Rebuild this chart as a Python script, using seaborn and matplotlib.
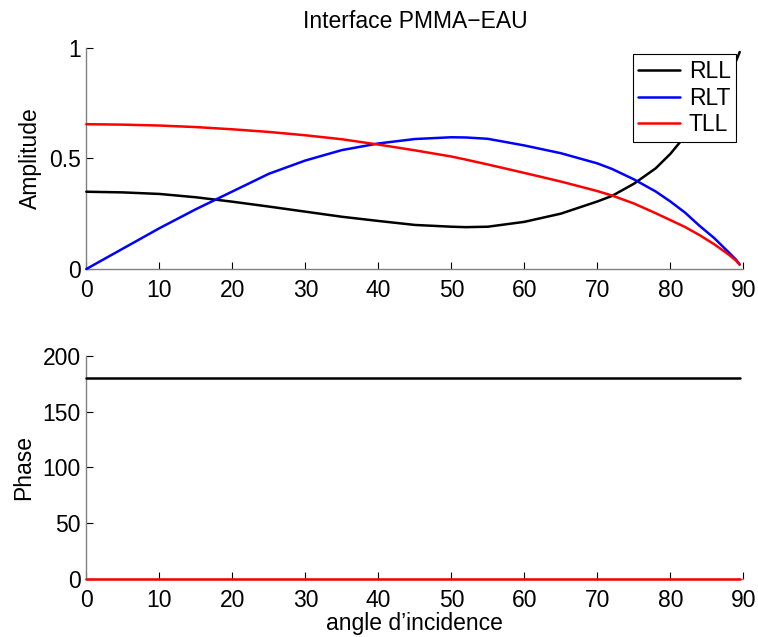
import matplotlib
matplotlib.use("Agg")
import matplotlib.pyplot as plt
import seaborn as sns

# values
angles = [0, 5, 10, 15, 20, 25, 30, 35, 40, 45, 50, 52, 55, 60, 65, 70, 72, 75,
          78, 80, 82, 84, 86, 88, 89, 89.5]
rll = [0.349, 0.346, 0.339, 0.324, 0.304, 0.282, 0.259, 0.236, 0.217, 0.199,
       0.191, 0.189, 0.191, 0.213, 0.250, 0.305, 0.330, 0.385, 0.455, 0.52,
       0.60, 0.68, 0.77, 0.87, 0.94, 0.98]
rlt = [0.0, 0.092, 0.184, 0.27, 0.35, 0.43, 0.49, 0.537, 0.567, 0.587, 0.595,
       0.594, 0.588, 0.558, 0.523, 0.477, 0.452, 0.405, 0.35, 0.305, 0.255,
       0.195, 0.14, 0.075, 0.042, 0.02]
tll = [0.654, 0.652, 0.648, 0.641, 0.631, 0.619, 0.604, 0.586, 0.562, 0.536,
       0.508, 0.494, 0.472, 0.434, 0.395, 0.352, 0.332, 0.296, 0.252, 0.221,
       0.19, 0.153, 0.112, 0.065, 0.038, 0.02]

phase_angles = [0, 89.5]
phase_rll = [180, 180]
phase_rlt = [0, 0]
phase_tll = [0, 0]

x_ticks = [0, 10, 20, 30, 40, 50, 60, 70, 80, 90]
amp_ticks = [0, 0.5, 1]
amp_labels = ["0", "0.5", "1"]
phase_ticks = [0, 50, 100, 150, 200]

sns.set_style("ticks")
plt.rcParams['font.family'] = ['Liberation Sans', 'DejaVu Sans']
plt.rcParams['text.color'] = 'black'
plt.rcParams['axes.labelcolor'] = 'black'
fs = 16.5

fig = plt.figure(figsize=(7.58, 6.37), dpi=100)
ax1 = fig.add_axes([0.1139, 0.5777, 0.8668, 0.3476])
ax2 = fig.add_axes([0.1139, 0.0911, 0.8668, 0.3500])

lw = 1.8
sns.lineplot(x=angles, y=rll, ax=ax1, color='black', linewidth=lw, label='RLL')
sns.lineplot(x=angles, y=rlt, ax=ax1, color='#0000ff', linewidth=lw, label='RLT')
sns.lineplot(x=angles, y=tll, ax=ax1, color='#ff0000', linewidth=lw, label='TLL')

# phase: RLT sits under TLL at 0, hidden as in the reference
sns.lineplot(x=phase_angles, y=phase_rll, ax=ax2, color='black', linewidth=lw)
sns.lineplot(x=phase_angles, y=phase_rlt, ax=ax2, color='#0000ff', linewidth=0.8)
sns.lineplot(x=phase_angles, y=phase_tll, ax=ax2, color='#ff0000', linewidth=lw)

for ax in (ax1, ax2):
    for i, line in enumerate(ax.lines):
        line.set_clip_on(False)
        line.set_zorder(3 + 0.1 * i)
    ax.set_xlim(0, 90)
    ax.set_xticks(x_ticks)
    ax.tick_params(direction='in', length=5, width=0.8, colors='black',
                   labelsize=fs)
    ax.tick_params(axis='x', pad=7.5)
    ax.tick_params(axis='y', pad=4)
    for side in ('top', 'right'):
        ax.spines[side].set_visible(False)
    for side in ('left', 'bottom'):
        ax.spines[side].set_color('#808080')
        ax.spines[side].set_linewidth(1.0)
    ax.set_facecolor('white')

ax1.set_ylim(0, 1)
ax1.set_yticks(amp_ticks)
ax1.set_yticklabels(amp_labels)
ax1.set_ylabel('Amplitude', fontsize=fs, labelpad=5)
ax1.set_title('Interface PMMA\u2212EAU', fontsize=fs, pad=14)

leg = ax1.legend(loc='upper right', fontsize=fs, frameon=True, fancybox=False,
                 edgecolor='black', framealpha=1, handlelength=1.8,
                 borderpad=0.25, labelspacing=0.15, handletextpad=0.4,
                 borderaxespad=0.3)
leg.get_frame().set_linewidth(0.8)
leg.set_zorder(5)

ax2.set_ylim(0, 200)
ax2.set_yticks(phase_ticks)
ax2.set_ylabel('Phase', fontsize=fs, labelpad=5)
ax2.set_xlabel('angle d\u2019incidence', fontsize=fs, labelpad=0)

fig.savefig('out.png', dpi=100, facecolor='white')
